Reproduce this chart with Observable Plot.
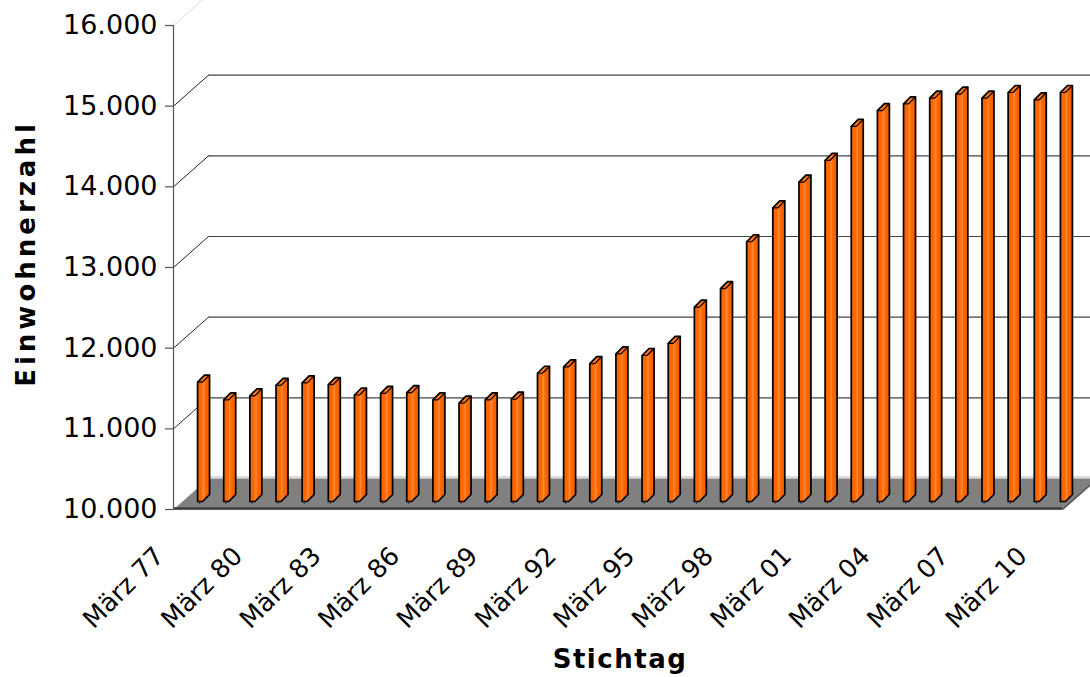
<!DOCTYPE html>
<html><head><meta charset="utf-8">
<script src="https://cdn.jsdelivr.net/npm/d3@7"></script>
<script src="https://cdn.jsdelivr.net/npm/@observablehq/plot@0.6"></script>
<style>html,body{margin:0;padding:0;background:#fff;overflow:hidden} svg{display:block}</style>
</head><body><div id="chart"></div>
<script>
// ---- data ----
const years = [1977,1978,1979,1980,1981,1982,1983,1984,1985,1986,1987,1988,1989,1990,1991,1992,1993,1994,1995,1996,1997,1998,1999,2000,2001,2002,2003,2004,2005,2006,2007,2008,2009,2010];
const einwohner = [11480,11260,11310,11440,11470,11450,11320,11340,11350,11260,11220,11260,11270,11590,11670,11710,11830,11810,11960,12410,12640,13220,13640,13960,14230,14650,14845,14930,15000,15050,15000,15070,14980,15070];
const labelYears = [1977,1980,1983,1986,1989,1992,1995,1998,2001,2004,2007,2010];
const labelTexts = ["März 77","März 80","März 83","März 86","März 89","März 92","März 95","März 98","März 01","März 04","März 07","März 10"];
const yTicks = [10000,11000,12000,13000,14000,15000,16000];
const yTitle = "Einwohnerzahl";
const xTitle = "Stichtag";

// ---- layout ----
const W = 1090, H = 677, mL = 173, mR = 28, mT = 25, mB = 168;
const x0 = 1976.5, x1 = 2010.5, y0 = 10000, y1 = 16000;
const KX = (W - mL - mR) / (x1 - x0), KY = (H - mT - mB) / (y1 - y0);
const px = p => p / KX, pv = p => p / KY;
const DX = px(35), DY = pv(31);          // depth of the 3D box
const fmt = d => d3.format(",")(d).replace(/,/g, ".");

// floor polygon
const floorPts = [[x0, y0], [x1, y0], [x1 + DX, y0 + DY], [x0 + DX, y0 + DY]].map(([x, y]) => ({x, y}));
const boundaries = years.slice(0, -1).map(y => y + 0.5);

// bar polygons (3D column) built from the values
const bL = px(11), bR = px(16), bD = px(7), bDv = pv(7), bLift = pv(8);
const barPts = [], capPts = [];
years.forEach((yr, i) => {
  const v = einwohner[i];
  const L = yr + bL, R = yr + bR, b = y0 + bLift, t = v + bLift;
  [[L, b], [R, b], [R + bD, b + bDv], [R + bD, t + bDv], [L + bD, t + bDv], [L, t], [L, b]]
    .forEach(([x, y]) => barPts.push({id: yr, x, y}));
  [[L, t], [R, t], [R + bD, t + bDv]].forEach(([x, y]) => capPts.push({id: yr, x, y}));
});

const inner = yTicks.filter(v => v > y0 && v < y1);

const chart = Plot.plot({
  width: W, height: H,
  marginLeft: mL, marginRight: mR, marginTop: mT, marginBottom: mB,
  x: {domain: [x0, x1], axis: null},
  y: {domain: [y0, y1], axis: null},
  style: {fontFamily: "DejaVu Sans", background: "#fff", color: "#000"},
  marks: [
    // back wall gridlines
    Plot.ruleY(inner, {y: d => d + DY, x1: x0 + DX, x2: x1 + DX + px(10), stroke: "#444", strokeWidth: 1.2}),
    // left wall diagonals
    Plot.link(inner, {x1: x0, y1: d => d, x2: x0 + DX, y2: d => d + DY, stroke: "#222", strokeWidth: 1}),
    Plot.link([y1], {x1: x0, y1: d => d, x2: x0 + DX, y2: d => d + DY, stroke: "#ddd", strokeWidth: 1}),
    // back wall bottom light edge
    Plot.ruleY([y0], {y: d => d + DY, x1: x0 + DX, x2: x1 + DX + px(10), dy: -1.5, stroke: "#cfcfcf", strokeWidth: 1.5}),
    // floor
    Plot.line(floorPts, {x: "x", y: "y", fill: "#808080", stroke: "none"}),
    Plot.ruleY([y0], {x1: x0, x2: x1, dy: -1, stroke: "#3c3c3c", strokeWidth: 2.5}),
    Plot.link([y0], {x1: x1, y1: d => d, x2: x1 + DX, y2: d => d + DY, stroke: "#555", strokeWidth: 1.5}),
    Plot.ruleX(boundaries, {x: d => d, y1: y0 + pv(5), y2: y0 + pv(9), stroke: "#333", strokeWidth: 1}),
    // y axis line + ticks
    Plot.ruleX([x0], {y1: y0, y2: y1, stroke: "#555", strokeWidth: 1.2}),
    Plot.ruleY(yTicks, {y: d => d, x1: x0 - px(8), x2: x0, stroke: "#555", strokeWidth: 1.2}),
    Plot.text(yTicks, {x: x0, y: d => d, text: fmt, dx: -16, textAnchor: "end", fontSize: 27, fill: "#000"}),
    // bars
    Plot.line(barPts, {x: "x", y: "y", z: "id", fill: "url(#barGrad)", stroke: "#000", strokeWidth: 1.7, strokeLinejoin: "round"}),
    Plot.line(capPts, {x: "x", y: "y", z: "id", stroke: "#000", strokeWidth: 1.2, strokeLinejoin: "round"}),
    // x labels
    Plot.text(labelYears, {x: d => d, y: y0, text: (d, i) => labelTexts[i], rotate: -45, textAnchor: "end", lineAnchor: "bottom", dx: -21, dy: 48, fontSize: 25.5, fill: "#000"}),
    // axis titles
    Plot.text([yTitle], {frameAnchor: "left", text: d => d, rotate: -90, textAnchor: "middle", lineAnchor: "middle", dx: -147, dy: -14, fontSize: 26, fontWeight: "bold", fill: "#000"}),
    Plot.text([xTitle], {frameAnchor: "bottom", text: d => d, textAnchor: "middle", dx: 2, dy: 158, fontSize: 26, fontWeight: "bold", fill: "#000"})
  ]
});

const ns = "http://www.w3.org/2000/svg";
const defs = document.createElementNS(ns, "defs");
defs.innerHTML = `<linearGradient id="barGrad" x1="0" x2="1" y1="0" y2="0">
  <stop offset="0" stop-color="#f25f00"/>
  <stop offset="0.35" stop-color="#ff6a00"/>
  <stop offset="0.5" stop-color="#ff8a3a"/>
  <stop offset="0.62" stop-color="#ff6a00"/>
  <stop offset="1" stop-color="#e85a00"/>
</linearGradient>`;
chart.insertBefore(defs, chart.firstChild);
chart.querySelectorAll("text").forEach(t => {
  if (t.textContent === yTitle) t.style.letterSpacing = "4px";
  if (t.textContent === xTitle) t.style.letterSpacing = "1.5px";
});
document.getElementById("chart").appendChild(chart);
</script>
</body></html>
